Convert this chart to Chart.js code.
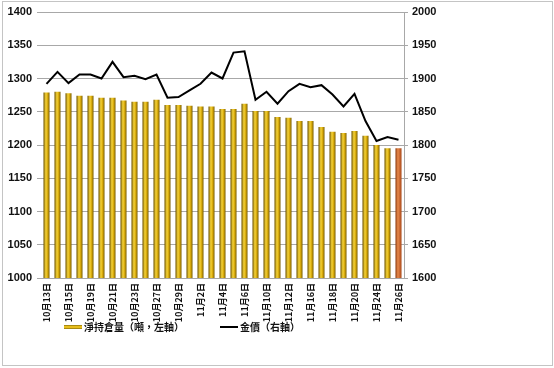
<!DOCTYPE html>
<html>
<head>
<meta charset="utf-8">
<script src="https://cdn.jsdelivr.net/npm/chart.js@4/dist/chart.umd.min.js"></script>
<style>
  body { margin: 0; background: #fff; }
  #frame { position: absolute; left: 2px; top: 1px; width: 551px; height: 365px; box-sizing: border-box; border: 1px solid #c4c4c4; }
  #c { position: absolute; left: 0; top: 0; }
  .legend { position: absolute; top: 320px; font: bold 10px "Noto Sans CJK TC", sans-serif; color: #111; line-height: 14px; white-space: nowrap; }
  .legend i { display: inline-block; width: 18px; vertical-align: middle; margin-right: 2px; position: relative; top: -1px; }
</style>
</head>
<body>
<div id="frame"></div>
<canvas id="c" width="554" height="368"></canvas>
<div class="legend" style="left:64px"><i style="background:#e6bd1c;border-top:1px solid #a98a10;border-bottom:1px solid #a98a10;height:2px"></i>淨持倉量（噸，左軸）</div>
<div class="legend" style="left:220px"><i style="height:2px;background:#000"></i>金價（右軸）</div>
<script>
const dates = ['10月13日','10月14日','10月15日','10月16日','10月19日','10月20日','10月21日','10月22日','10月23日',
  '10月26日','10月27日','10月28日','10月29日','10月30日','11月2日','11月3日','11月4日','11月5日','11月6日',
  '11月9日','11月10日','11月11日','11月12日','11月13日','11月16日','11月17日','11月18日','11月19日','11月20日',
  '11月23日','11月24日','11月25日','11月26日'];

// net holdings, tonnes (left axis)
const holdings = [1279, 1280, 1278, 1274, 1274, 1271, 1271, 1267, 1265, 1265, 1268, 1260, 1260, 1259, 1258, 1258,
  1254, 1254, 1262, 1251, 1251, 1242, 1241, 1236, 1236, 1227, 1220, 1218, 1221, 1214, 1200, 1195, 1195];

// gold price (right axis)
const goldPrice = [1892, 1910, 1893, 1906, 1906, 1900, 1925, 1902, 1904, 1899, 1906, 1871, 1872, 1882, 1892, 1909,
  1900, 1939, 1941, 1868, 1880, 1862, 1881, 1892, 1887, 1890, 1876, 1858, 1877, 1836, 1806, 1812, 1808];

const gridColor = '#a8a8a8';
const tickFont = { family: 'Liberation Sans, Arial, sans-serif', size: 11, weight: 'bold' };

function barFill(ctx) {
  const chart = ctx.chart;
  if (!chart.chartArea || ctx.dataIndex === undefined) return '#d4a800';
  const x = chart.scales.x.getPixelForValue(ctx.dataIndex);
  const g = chart.ctx.createLinearGradient(x - 3, 0, x + 3, 0);
  if (ctx.dataIndex === holdings.length - 1) {
    g.addColorStop(0, '#8a3a10');
    g.addColorStop(0.4, '#e8894a');
    g.addColorStop(1, '#a9481a');
  } else {
    g.addColorStop(0, '#6e5400');
    g.addColorStop(0.4, '#f6d43a');
    g.addColorStop(0.65, '#dcae0e');
    g.addColorStop(1, '#7d6000');
  }
  return g;
}

new Chart(document.getElementById('c'), {
  data: {
    labels: dates,
    datasets: [
      {
        type: 'line',
        label: '金價（右軸）',
        data: goldPrice,
        yAxisID: 'y2',
        borderColor: '#000',
        borderWidth: 2,
        pointRadius: 0,
        tension: 0,
        order: 0
      },
      {
        type: 'bar',
        label: '淨持倉量（噸，左軸）',
        data: holdings,
        yAxisID: 'y',
        backgroundColor: barFill,
        barPercentage: 0.55,
        categoryPercentage: 1,
        order: 1
      }
    ]
  },
  options: {
    responsive: false,
    animation: false,
    devicePixelRatio: 1,
    layout: { padding: { left: 0, right: 113, top: 12, bottom: 45 } },
    plugins: {
      legend: { display: false },
      tooltip: { enabled: false }
    },
    scales: {
      x: {
        offset: true,
        grid: { display: false, drawTicks: false },
        border: { display: false },
        ticks: {
          autoSkip: false,
          minRotation: 90,
          maxRotation: 90,
          padding: 5,
          color: '#111',
          font: { family: 'Noto Sans CJK TC, sans-serif', size: 9, weight: 'bold' },
          callback: (v, i) => i % 2 === 0 ? dates[i] : ''
        },
        afterFit: s => { s.height = 45; }
      },
      y: {
        position: 'left',
        min: 1000,
        max: 1400,
        ticks: { stepSize: 50, padding: 5, color: '#111', font: tickFont, callback: v => String(v) },
        grid: { color: gridColor, tickLength: 4, lineWidth: 1 },
        border: { display: false },
        afterFit: s => { s.width = 41; }
      },
      y2: {
        position: 'right',
        min: 1600,
        max: 2000,
        ticks: { stepSize: 50, padding: 4, color: '#111', font: tickFont, callback: v => String(v) },
        grid: { drawOnChartArea: false, color: gridColor, tickLength: 4 },
        border: { display: true, color: gridColor },
        afterFit: s => { s.width = 37; }
      }
    }
  }
});
</script>
</body>
</html>
